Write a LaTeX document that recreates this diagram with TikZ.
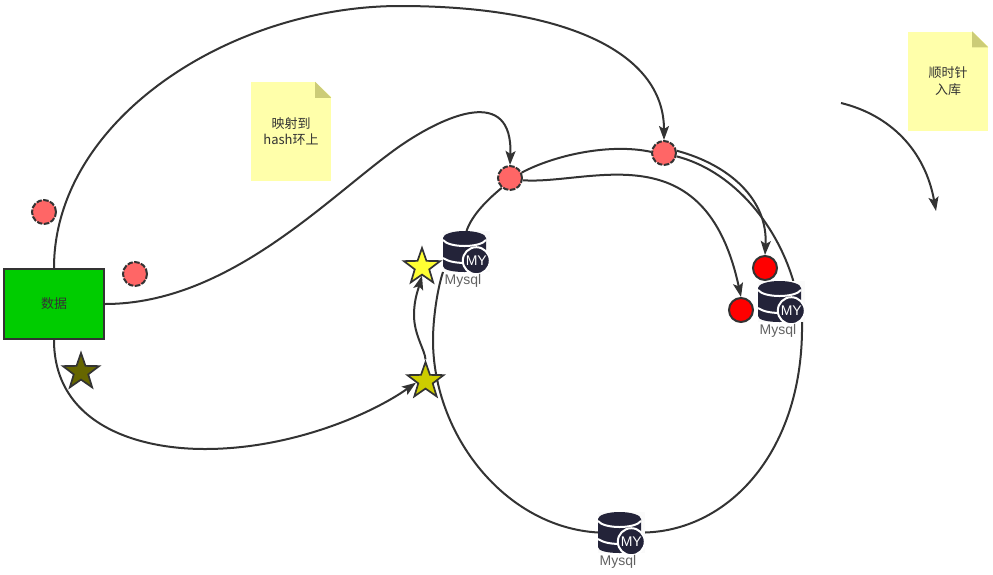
\documentclass[tikz,border=0pt]{standalone}
\usepackage{fontspec}
\setmainfont{Liberation Sans}
\newfontfamily\cjk{Noto Sans CJK SC}
\usetikzlibrary{arrows.meta, positioning, shapes.geometric, backgrounds}
\definecolor{linegray}{HTML}{333333}
\definecolor{dbdark}{HTML}{232339}
\definecolor{notefill}{HTML}{FFFFAA}
\definecolor{notefold}{HTML}{CCCC77}
\definecolor{boxgreen}{HTML}{00CC00}
\definecolor{dotpink}{HTML}{FF6666}
\definecolor{stardark}{HTML}{666600}
\definecolor{starmid}{HTML}{CCCC00}
\definecolor{starlight}{HTML}{FFFF33}
\tikzset{
	conn/.style={draw=linegray, line width=2pt},
	connarrow/.style={conn, -{Stealth[length=14pt,width=10pt,inset=3pt]}},
	datadot/.style={circle, draw=linegray, fill=#1, line width=2pt, minimum size=24pt, inner sep=0pt},
	dashdot/.style={datadot=#1, dash pattern=on 5.5pt off 1.5pt},
	starmark/.style={star, star points=5, star point ratio=2.5, draw=linegray, fill=#1, line width=1.7pt, minimum size=38pt, inner sep=0pt},
	notebox/.style={fill=notefill, minimum width=80pt, minimum height=99pt, inner sep=0pt, align=center, text=linegray, font=\cjk\fontsize{13}{16.5}\selectfont},
	dbbox/.style={fill=black!2, minimum width=47pt, minimum height=41pt, inner sep=0pt, outer sep=0pt},
	dblabel/.style={text=black!62, inner sep=0pt, font=\fontsize{14}{15}\selectfont},
	dbicon/.pic={
		\fill[dbdark] (0,7) -- (0,35) .. controls (0,39) and (10,41) .. (21.5,41) .. controls (33,41) and (43,39) .. (43,35) -- (43,7) -- cycle;
		\fill[dbdark] (21.5,7) ellipse [x radius=21.5, y radius=7];
		\draw[white, line width=2pt] (0,9) .. controls (6,17) and (37,17) .. (43,9);
		\draw[white, line width=2pt] (0,27) .. controls (6,31) and (14,32) .. (24,32);
		\draw[white, line width=2pt, fill=dbdark] (33.3,29.7) circle [radius=13.5];
		\node[text=white, inner sep=0pt, font=\fontsize{14}{14}\selectfont] at (33.3,29.7) {MY};
	}
}
\begin{document}
\begin{tikzpicture}[x=1pt,y=-1pt]
		\useasboundingbox (0,0) rectangle (993,574);
		%draw source box
		\node[draw=linegray, fill=boxgreen, line width=2pt, minimum width=100pt, minimum height=70pt, inner sep=0pt, text=linegray, font=\cjk\fontsize{13}{14}\selectfont] (dataBox) at (54,304) {数据};
		%draw dots and stars
		\node[dashdot=dotpink] (dotUp) at (44,212) {};
		\node[dashdot=dotpink] (dotRight) at (135,274) {};
		\node[dashdot=dotpink] (ringDotA) at (510,178) {};
		\node[dashdot=dotpink] (ringDotB) at (664,153) {};
		\node[datadot=red] (redUpper) at (765,268) {};
		\node[datadot=red] (redLower) at (741,310) {};
		\node[starmark=stardark] (starDark) at (81,372) {};
		\node[starmark=starmid] (starLow) at (425.5,381) {};
		\node[starmark=starlight] (starUp) at (422,267) {};
		%draw databases
		\foreach \nm/\px/\py in {dbLeft/466.5/251.5, dbRight/781.5/301.5, dbBottom/621.5/532.5}{
			\node[dbbox] (\nm) at (\px,\py) {};
			\pic at (\nm.north west) {dbicon};
			\node[dblabel, below=2.5pt of \nm, xshift=-3.5pt] (\nm Label) {Mysql};
		}
		%draw notes
		\node[notebox] (noteMap) at (291,131.5) {映射到\\hash环上};
		\node[notebox] (noteClock) at (948,81) {顺时针\\入库};
		\foreach \nm in {noteMap, noteClock}{
			\fill[white] ([xshift=-16pt]\nm.north east) -- ([xshift=1pt]\nm.north east) -- ([xshift=1pt,yshift=-16pt]\nm.north east) -- cycle;
			\fill[notefold] ([xshift=-16pt]\nm.north east) -- ([yshift=-16pt]\nm.north east) -- ([xshift=-16pt,yshift=-16pt]\nm.north east) -- cycle;
		}
		\coordinate (clockStart) at (841,103);
		\coordinate (clockEnd) at (936,211);
		%draw connectors
		\begin{scope}[on background layer]
			\draw[connarrow] (dataBox.north) .. controls (54,120) and (230,6) .. (400,6) .. controls (560,6) and (664,50) .. (ringDotB.north);
			\draw[connarrow] (dataBox.east) .. controls (230,304) and (330,195) .. (400,146) .. controls (445,115) and (513,85) .. (ringDotA.north);
			\draw[connarrow] (dataBox.south) .. controls (54,420) and (130,449) .. (205,449) .. controls (290,449) and (370,415) .. (starLow.190);
			\draw[connarrow] (starLow.north) .. controls (425,350) and (414,335) .. (414,315) .. controls (414,300) and (418,290) .. (starUp.south);
			\draw[connarrow] (ringDotA.-10) .. controls (590,185) and (705,130) .. (redLower.north);
			\draw[connarrow] (ringDotB.10) .. controls (730,165) and (768,200) .. (redUpper.north);
			\draw[conn] (ringDotA.-130) .. controls (487,200) and (472,215) .. (dbLeft.north);
			\draw[conn] (ringDotA.25) .. controls (555,155) and (610,143) .. (ringDotB.175);
			\draw[conn] (ringDotB.-15) .. controls (730,170) and (775,220) .. (dbRight.60);
			\draw[conn] (dbRight.-45) .. controls (804,450) and (730,530) .. (dbBottom.east);
			\draw[conn] (dbBottom.west) .. controls (505,527) and (433,435) .. (433,340) .. controls (433,320) and (437,290) .. (dbLeft.south west);
			\draw[connarrow] (clockStart) .. controls (890,115) and (925,150) .. (clockEnd);
		\end{scope}
\end{tikzpicture}
\end{document}
